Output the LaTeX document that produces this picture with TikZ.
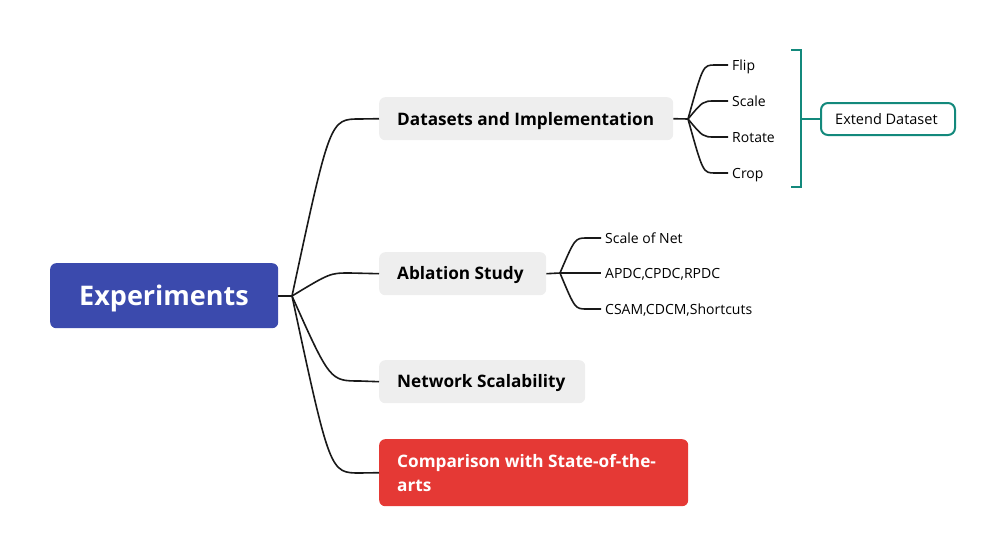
\documentclass[tikz,border=0pt]{standalone}
\usepackage{fontspec}
\setmainfont{Open Sans}
\begin{document}
\begin{tikzpicture}[x=1pt,y=-1pt,
  topic/.style={rounded corners=6pt, inner sep=0pt, anchor=north west},
  grayfill/.style={topic, fill=boxgray},
  conn/.style={line width=1.6pt, black!90},
  ttext/.style={anchor=base west, inner sep=0pt, font=\bfseries\fontsize{17.2}{20}\selectfont},
  leaf/.style={anchor=base west, inner sep=0pt, font=\fontsize{14}{16}\selectfont}
]
\definecolor{boxgray}{HTML}{EEEEEE}
\definecolor{rootblue}{HTML}{3B4AAD}
\definecolor{hotred}{HTML}{E53935}
\definecolor{teal}{HTML}{13897C}
\useasboundingbox (0,0) rectangle (1005,557);
% root
\node[topic, fill=rootblue, minimum width=228pt, minimum height=65pt] (root) at (50,263) {};
\node[anchor=base, inner sep=0pt, text=white, font=\bfseries\fontsize{27}{30}\selectfont] (roott) at (164,305.5) {Experiments};
\coordinate (rj) at (292,296);
% main topics
\node[grayfill, minimum width=294pt, minimum height=43pt] (ds) at (379,97) {};
\node[ttext] (dst) at (397,125) {Datasets and Implementation};
\node[grayfill, minimum width=167pt, minimum height=43pt] (ab) at (379,252) {};
\node[ttext] (abt) at (397,279) {Ablation Study};
\node[grayfill, minimum width=206pt, minimum height=43pt] (ns) at (379,360) {};
\node[ttext] (nst) at (397,387) {Network Scalability};
\node[topic, fill=hotred, minimum width=309pt, minimum height=67pt] (cmp) at (379,439) {};
\node[anchor=base west, inner sep=0pt, text=white, align=left, font=\bfseries\fontsize{17.2}{24}\selectfont] (cmpt) at (397,491) {Comparison with State-of-the-\\arts};
% root connectors
\draw[conn] (root.east |- rj) -- (rj);
\draw[conn] (rj) .. controls (330,119) .. (360,119) -- (ds.west);
\draw[conn] (rj) .. controls (330,273) .. (350,273) -- (ab.west);
\draw[conn] (rj) .. controls (330,381) .. (360,381) -- (ns.west);
\draw[conn] (rj) .. controls (330,473) .. (360,473) -- (cmp.west);
% dataset leaves
\coordinate (dj) at (688,119);
\draw[conn] (ds.east) -- (dj);
\foreach \n/\t/\y in {fl/Flip/65, sc/Scale/101, ro/Rotate/137, cr/Crop/173}{
  \node[leaf] (\n) at (732,\y+5) {\t};
  \draw[conn] (dj) .. controls (703,\y) .. (715,\y) -- (728,\y);
}
% ablation leaves
\coordinate (aj) at (560,273);
\draw[conn] (ab.east) -- (aj);
\foreach \n/\t/\y in {sn/Scale of Net/238, ap/{APDC,CPDC,RPDC}/273, cs/{CSAM,CDCM,Shortcuts}/309}{
  \node[leaf] (\n) at (605,\y+5) {\t};
  \draw[conn] (aj) .. controls (575,\y) .. (587,\y) -- (601,\y);
}
% bracket and summary
\coordinate (bt) at (801,50);
\coordinate (bb) at (801,187);
\coordinate (bm) at (801,119);
\draw[teal, line width=2pt] (791,50) -- (bt) -- (bb) -- (791,187);
\node[draw=teal, line width=2pt, rounded corners=7pt, fill=white, minimum width=134pt, minimum height=32pt, inner sep=0pt] (ext) at (888,119) {};
\node[leaf, font=\fontsize{14.5}{16}\selectfont] (extt) at (835,124) {Extend Dataset};
\draw[teal, line width=2pt] (bm) -- (ext.west);
\end{tikzpicture}
\end{document}
